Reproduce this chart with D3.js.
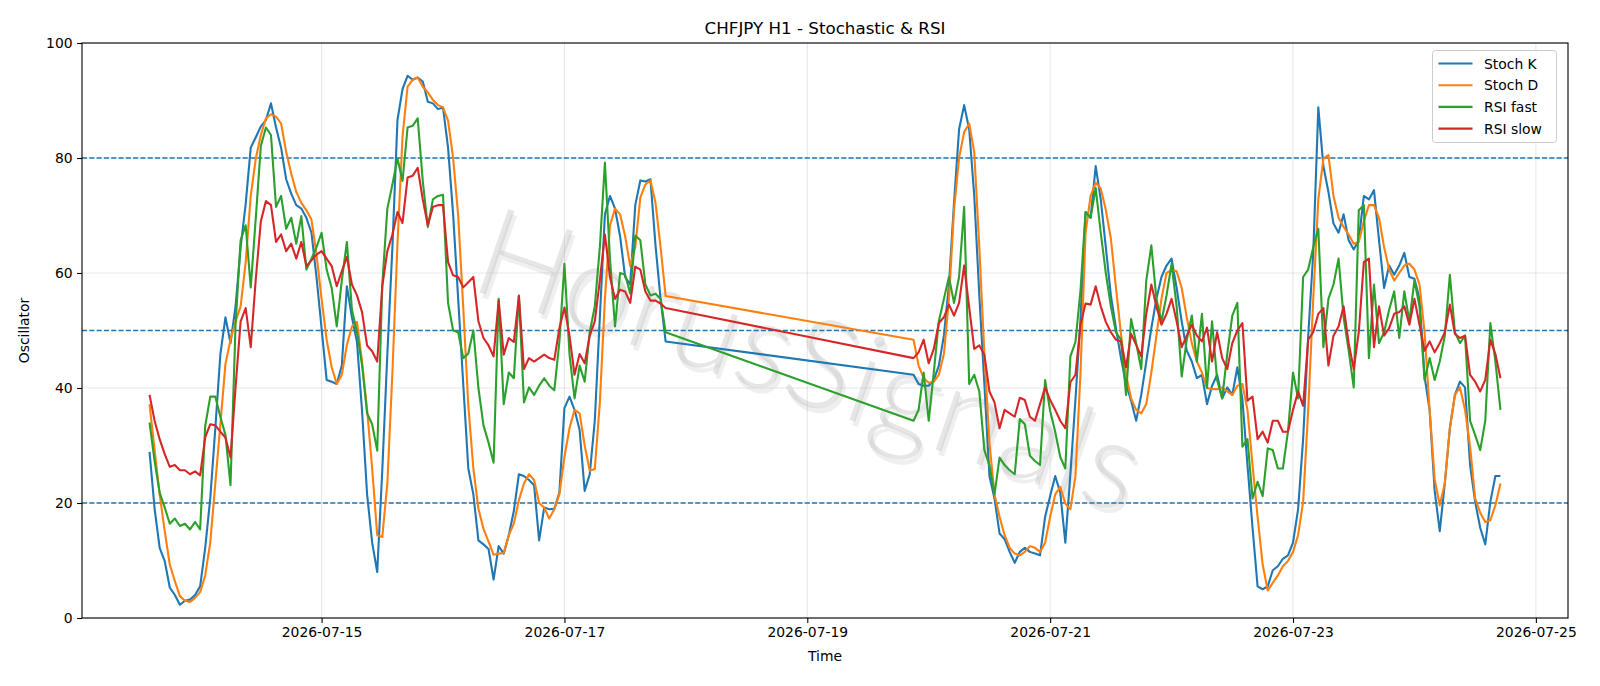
<!DOCTYPE html>
<html>
<head>
<meta charset="utf-8">
<script src="https://cdn.jsdelivr.net/npm/d3@7"></script>
<style>
  body { margin: 0; background: #fff; }
  svg { display: block; font-family: "DejaVu Sans", sans-serif; }
</style>
</head>
<body>
<div id="chart"></div>
<script>
// two trading sessions of hourly bars (weekend gap in between)
const sessionStarts = ["2026-07-13T14:00:00Z", "2026-07-19T21:00:00Z"];
const sessionLengths = [103, 117];

const stochK = [
  // session 1
  28.9, 19, 12.2, 9.9, 5.3, 4.0, 2.3, 3.0, 3.2, 4.0,
  5.5, 12.2, 20.8, 33, 45.9, 52.3, 47.8, 54.2, 64.5, 72,
  81.8, 83.6, 85.5, 86.6, 89.5, 85.3, 81.8, 76.3, 73.8, 71.8,
  71.2, 69.6, 67, 59.3, 50.4, 41.4, 41.1, 40.7, 43.9, 57.7,
  52.3, 48, 36, 21.5, 13.1, 8, 25.7, 45.9, 64.5, 86.6,
  92, 94.3, 93.6, 94, 93.3, 89.8, 89.5, 88.5, 88.8, 81.8,
  70.2, 55.5, 40.7, 26, 21.5, 13.5, 12.8, 12, 6.7, 12.5,
  11.2, 14.4, 18.6, 25, 24.7, 24, 23.1, 13.5, 19.2, 18.9,
  19, 21.8, 36.5, 38.5, 36.2, 32.7, 22.1, 25, 34.3, 52.3,
  70.2, 73.4, 71.2, 66.4, 59.3, 58, 71.8, 76.1, 75.9, 76.3,
  64.8, 55.5, 48.1,
  // session 2
  42.3, 40.7, 40.4, 40.4, 41.4, 43.9, 49.1, 58, 72.2, 85,
  89.2, 85, 73.4, 56.1, 40.7, 24.7, 20.8, 14.7, 13.7, 11.5,
  9.6, 11.5, 12.2, 11.5, 11.2, 10.9, 17.6, 21.2, 24.7, 21.8,
  13.1, 25, 38, 52, 70.6, 69.6, 78.6, 72.8, 64.5, 56.1,
  50.4, 45.2, 40.7, 37.8, 34.3, 38.8, 44.6, 50.4, 55.5, 59.3,
  61.3, 62.5, 57.4, 51.6, 46.5, 44.6, 41.7, 42.3, 37.2, 40.4,
  42.3, 38.2, 40.1, 38.8, 43.6, 38, 26.6, 15.7, 5.5, 5.0,
  5.5, 8.3, 9, 10.3, 10.9, 13.1, 18.9, 31.1, 49, 63.5,
  88.8, 78.6, 74.1, 68.6, 67, 70.2, 65.7, 64.1, 65.7, 73.4,
  72.8, 74.4, 65.7, 57.4, 61.3, 59.7, 61.3, 63.5, 59.3, 59,
  55.5, 42, 36.2, 22.1, 15.1, 23.4, 33, 38.8, 41.1, 40.1,
  26.6, 20.2, 15.7, 12.8, 20.2, 24.7, 24.7
];

const stochD = [
  37.2, 29.2, 21.5, 15.1, 9.3, 6.4, 3.8, 3.0, 2.8, 3.5,
  4.5, 7.4, 13.1, 23.4, 33.7, 44.2, 48.4, 51.6, 54.2, 61.9,
  73.4, 79.9, 84, 86.9, 87.6, 87.2, 86, 81.1, 77.3, 74.1,
  72.2, 70.9, 69.3, 63.2, 55.5, 48.4, 43.6, 40.7, 42.3, 47.5,
  50.7, 51.5, 44.6, 36.2, 26, 14.4, 14.1, 23.4, 42.7, 65.1,
  83.7, 92.4, 93.6, 94, 92.4, 91.4, 90.1, 89.2, 88.8, 86.5,
  80, 70, 54, 37, 26, 19, 15.5, 13.3, 11, 11.2,
  11.3, 14.4, 16.4, 20.5, 23.4, 25, 24, 20, 19.2, 17.3,
  18.9, 21.5, 28, 33, 36.2, 35.6, 30, 25.6, 25.9, 37.5,
  55.5, 68.3, 71.2, 70.2, 66.4, 61.2, 64.5, 73.1, 75.4, 76.1,
  72.2, 64.5, 56,
  48.4, 43.9, 41.7, 40.9, 41.1, 42.3, 45.9, 55.5, 70.9, 80,
  84.5, 86, 81, 64.5, 45.9, 30.5, 21.5, 17.6, 14.4, 12.2,
  11.2, 10.9, 11.5, 12.5, 12.2, 11.5, 13.1, 17.6, 21.5, 22.8,
  19.9, 18.9, 24.7, 42.7, 67, 73.4, 75.7, 74.7, 71, 66,
  57.5, 49.4, 42.3, 38.2, 36.2, 35.6, 37.2, 42.7, 49.1, 55.5,
  60, 60.5, 60.3, 57.4, 52.3, 47.8, 44.6, 42.7, 40, 39.8,
  39.8, 40.1, 39.4, 38.8, 40.4, 40.7, 36.2, 26.6, 17.6, 9.3,
  4.8, 6.1, 7.4, 9, 9.9, 11.5, 14.4, 20.2, 36.2, 55.5,
  72.8, 79.9, 80.5, 73.4, 69.6, 68, 66.7, 65.1, 65.4, 69,
  71.8, 71.8, 69.6, 64.5, 60.6, 58.7, 60, 61.3, 61.6, 60.6,
  58, 49.7, 36.2, 24.1, 19.6, 23.4, 33, 38.8, 40.1, 36.2,
  29.8, 20.8, 18.3, 16.7, 17, 19.6, 23.4
];

const rsiFast = [
  34, 27.3, 21.8, 19.2, 16.4, 17.3, 16, 16.4, 15.4, 16.7,
  15.4, 33.4, 38.5, 38.5, 35, 31.8, 23.1, 51, 65.7, 68.3,
  57.5, 69.6, 82.1, 85.3, 84, 71.5, 73.4, 67.7, 69.6, 65.1,
  69.9, 60.6, 62.5, 64.5, 67, 60.6, 57.4, 50.7, 58.7, 65.4,
  53.6, 49.7, 44, 35.6, 33.7, 29.1, 58, 71.2, 75.4, 79.9,
  76, 85.3, 85.6, 86.9, 76, 68, 72.8, 73.4, 73.6, 54.8,
  50, 49.7, 45.2, 46, 50, 40, 33.5, 30.5, 27, 55.5,
  37.2, 42.7, 41.7, 56.1, 37.5, 40.1, 38.8, 40.4, 41.7, 40.4,
  39.6, 48, 61.6, 45.9, 38.2, 43.9, 41.1, 49.7, 54.2, 64.5,
  79.2, 62.5, 50.7, 60, 59.7, 56.4, 66.5, 65.7, 58, 56.1,
  56.4, 55.5, 49.7,
  34.3, 36.2, 42.7, 34.3, 42.7, 51.6, 55.5, 59.3, 54.8, 59.3,
  71.5, 40.7, 42.3, 39.4, 29.2, 26.6, 21.5, 27.9, 26.6, 25.7,
  25, 34.6, 33.7, 28.2, 27.3, 26.6, 41.4, 36, 32.4, 28,
  26, 45.5, 48, 57, 70.6, 69.6, 74.8, 67, 60, 54.2,
  49.7, 48.4, 38.8, 52, 47.8, 43.3, 58.7, 64.8, 55.5, 51.6,
  56.1, 61.6, 54.2, 42, 48.4, 52.6, 44.6, 52.9, 40, 51.6,
  41.4, 38.2, 45.9, 52.6, 54.8, 29.8, 31.1, 20.8, 23.7, 21.2,
  29.5, 29.2, 26, 26, 32.4, 42.7, 38.2, 59.3, 60.6, 64.5,
  67.7, 47.1, 55.5, 58, 62.5, 52.3, 46.5, 40.1, 70.9, 71.8,
  45.2, 58, 47.8, 49.7, 53.6, 56.8, 48.7, 56.8, 51.6, 58.7,
  54.2, 41.4, 45.2, 41.4, 44.6, 49.1, 59.7, 49.7, 47.8, 49.1,
  34.3, 31.8, 29.2, 34.3, 51.3, 44.6, 36.2
];

const rsiSlow = [
  38.8, 34.3, 31.1, 28.5, 26.3, 26.6, 25.7, 25.7, 25, 25.5,
  24.8, 31.4, 33.7, 33.5, 32.4, 31.4, 27.9, 40.1, 51.6, 53.9,
  47.1, 59, 69, 72.5, 71.8, 65.4, 66.7, 63.8, 65.1, 62.5,
  65.4, 61.2, 62.2, 63.2, 63.8, 62.5, 61.2, 57.7, 60.3, 62.8,
  58, 56.1, 53.2, 47.4, 46.4, 44.6, 57.7, 63.8, 66.7, 70.6,
  68.7, 76.6, 76.9, 78.3, 72.8, 68.3, 71.5, 71.8, 71.8, 61.9,
  59.6, 59.3, 57.5, 58.4, 59.3, 51.6, 48.7, 47.4, 45.5, 55.2,
  45.8, 48.7, 48, 56, 43.3, 45.2, 44.6, 45.2, 45.8, 45.2,
  44.9, 50.4, 54, 49.1, 42.3, 45.9, 44.3, 49.1, 51.6, 58.7,
  66.7, 59.3, 55.5, 57.1, 56.8, 54.8, 61.1, 60.6, 56.8, 55.2,
  55.2, 54.7, 53.9,
  45.2, 46.2, 48.4, 44.3, 46.8, 51.3, 52.3, 54.5, 52.6, 54.8,
  61.3, 54, 46.8, 47.4, 45.8, 39.4, 37.5, 33, 36.2, 35.6,
  35, 38.3, 37.9, 35, 34.3, 37.2, 40.1, 37.9, 36.2, 34.3,
  33, 41, 42.3, 51, 54.7, 54.5, 57.7, 54.2, 51.5, 49.7,
  48.4, 48.1, 43.6, 49.4, 47.5, 45.5, 52.9, 58, 54.2, 51,
  52.9, 55.5, 51.6, 47.1, 49.1, 51, 49.1, 48.1, 50.5, 44.6,
  49.7, 45.2, 43.3, 47.8, 50, 51.3, 37.8, 38.5, 31.1, 32.4,
  30.5, 34.3, 34.3, 32.4, 32.4, 36.2, 39.4, 36.9, 48.4, 49.7,
  52.9, 53.9, 43.9, 49.1, 50.7, 54.2, 47.8, 43.3, 49.7, 61.9,
  62.5, 47.1, 54.2, 49.1, 50.4, 52.9, 53.2, 54.2, 51, 55.5,
  51, 46.5, 48.1, 46.2, 47.8, 49.7, 54.5, 49.4, 48.7, 49.1,
  42.3, 41.1, 39.4, 41.4, 48.4, 45.9, 41.7
];

const seriesNames = ["Stoch K", "Stoch D", "RSI fast", "RSI slow"];
const seriesColors = ["#1f77b4", "#ff7f0e", "#2ca02c", "#d62728"];
const levelLines = [80, 50, 20];
const yTicks = [0, 20, 40, 60, 80, 100];
const xTickDates = ["2026-07-15", "2026-07-17", "2026-07-19", "2026-07-21", "2026-07-23", "2026-07-25"];

const W = 1600, H = 686;
const margin = { top: 43, right: 32, bottom: 68, left: 82 };
const width = W - margin.left - margin.right;
const height = H - margin.top - margin.bottom;

// hourly timestamps for each session
let times = [];
sessionStarts.forEach((s, i) => {
  const t0 = new Date(s);
  times = times.concat(d3.utcHour.range(t0, d3.utcHour.offset(t0, sessionLengths[i])));
});

const allSeries = [stochK, stochD, rsiFast, rsiSlow].map((vals, i) => ({
  name: seriesNames[i],
  color: seriesColors[i],
  points: vals.map((v, j) => ({ t: times[j], v: v }))
}));

const svg = d3.select("#chart").append("svg")
  .attr("width", W)
  .attr("height", H);

const g = svg.append("g")
  .attr("transform", "translate(" + margin.left + "," + margin.top + ")");

// x domain padded 5% like matplotlib
const ext = d3.extent(times);
const pad = (ext[1] - ext[0]) * 0.05;
const x = d3.scaleUtc()
  .domain([new Date(+ext[0] - pad), new Date(+ext[1] + pad)])
  .range([0, width]);

const y = d3.scaleLinear()
  .domain([0, 100])
  .range([height, 0]);

// grid
g.append("g").selectAll("line")
  .data(yTicks)
  .enter().append("line")
  .attr("x1", 0).attr("x2", width)
  .attr("y1", d => y(d)).attr("y2", d => y(d))
  .style("stroke", "#b0b0b0").style("stroke-opacity", 0.3).style("stroke-width", 1.1);

g.append("g").selectAll("line")
  .data(xTickDates.map(d => new Date(d + "T00:00:00Z")))
  .enter().append("line")
  .attr("x1", d => x(d)).attr("x2", d => x(d))
  .attr("y1", 0).attr("y2", height)
  .style("stroke", "#b0b0b0").style("stroke-opacity", 0.3).style("stroke-width", 1.1);

// watermark (soft shadow + light text)
const wm = g.append("g")
  .attr("transform", "translate(" + (806 - margin.left) + "," + (372 - margin.top) + ") rotate(19)");
[[4, 4, "#9a9a9a", 0.15], [0, 0, "#c4c4c4", 0.42]].forEach(s => {
  wm.append("text")
    .attr("x", s[0]).attr("y", s[1])
    .attr("text-anchor", "middle")
    .attr("dominant-baseline", "middle")
    .style("font-family", "Lato, 'DejaVu Sans', sans-serif")
    .style("font-weight", 300)
    .style("font-size", "125px")
    .style("fill", s[2])
    .style("opacity", s[3])
    .text("HorusSignals");
});

// level lines
g.append("g").selectAll("line")
  .data(levelLines)
  .enter().append("line")
  .attr("x1", 0).attr("x2", width)
  .attr("y1", d => y(d)).attr("y2", d => y(d))
  .style("stroke", "#1f77b4")
  .style("stroke-width", 1.4)
  .style("stroke-dasharray", "5.1,2.2");

// series lines
const line = d3.line()
  .x(d => x(d.t))
  .y(d => y(d.v));

g.selectAll(".series")
  .data(allSeries)
  .enter().append("path")
  .attr("class", "series")
  .attr("d", d => line(d.points))
  .style("fill", "none")
  .style("stroke", d => d.color)
  .style("stroke-width", 2.1)
  .style("stroke-linejoin", "round");

// axes
const xAxis = d3.axisBottom(x)
  .tickValues(xTickDates.map(d => new Date(d + "T00:00:00Z")))
  .tickFormat(d3.utcFormat("%Y-%m-%d"))
  .tickSize(4.9)
  .tickPadding(4.5);

const yAxis = d3.axisLeft(y)
  .tickValues(yTicks)
  .tickSize(4.9)
  .tickPadding(4.5);

const gx = g.append("g")
  .attr("transform", `translate(0, ${height})`)
  .call(xAxis);
const gy = g.append("g").call(yAxis);

[gx, gy].forEach(a => {
  a.select(".domain").remove();
  a.selectAll("line").style("stroke", "#000").style("stroke-width", 1.1);
  a.selectAll("text")
    .style("font-family", "'DejaVu Sans', sans-serif")
    .style("font-size", "13.9px")
    .style("fill", "#000");
});

// frame
g.append("rect")
  .attr("x", 0).attr("y", 0)
  .attr("width", width).attr("height", height)
  .style("fill", "none")
  .style("stroke", "#000")
  .style("stroke-width", 1.1);

// title and labels
svg.append("text")
  .attr("x", margin.left + width / 2)
  .attr("y", 34)
  .attr("text-anchor", "middle")
  .style("font-size", "16.7px")
  .text("CHFJPY H1 - Stochastic & RSI");

svg.append("text")
  .attr("x", margin.left + width / 2)
  .attr("y", 661)
  .attr("text-anchor", "middle")
  .style("font-size", "13.9px")
  .text("Time");

svg.append("text")
  .attr("transform", "translate(25," + (margin.top + height / 2) + ") rotate(-90)")
  .attr("text-anchor", "middle")
  .attr("dominant-baseline", "middle")
  .style("font-size", "13.9px")
  .text("Oscillator");

// legend
const lg = svg.append("g").attr("transform", "translate(1432.5,50.5)");
lg.append("rect")
  .attr("width", 124).attr("height", 92)
  .attr("rx", 3)
  .style("fill", "#fff").style("fill-opacity", 0.8)
  .style("stroke", "#cccccc").style("stroke-width", 1);

const items = lg.selectAll(".item")
  .data(allSeries)
  .enter().append("g")
  .attr("class", "item")
  .attr("transform", (d, i) => "translate(0," + (13 + i * 21.7) + ")");

items.append("line")
  .attr("x1", 6).attr("x2", 40)
  .style("stroke", d => d.color)
  .style("stroke-width", 2.1);

items.append("text")
  .attr("x", 51.5)
  .attr("dominant-baseline", "central")
  .style("font-size", "13.9px")
  .text(d => d.name);
</script>
</body>
</html>
